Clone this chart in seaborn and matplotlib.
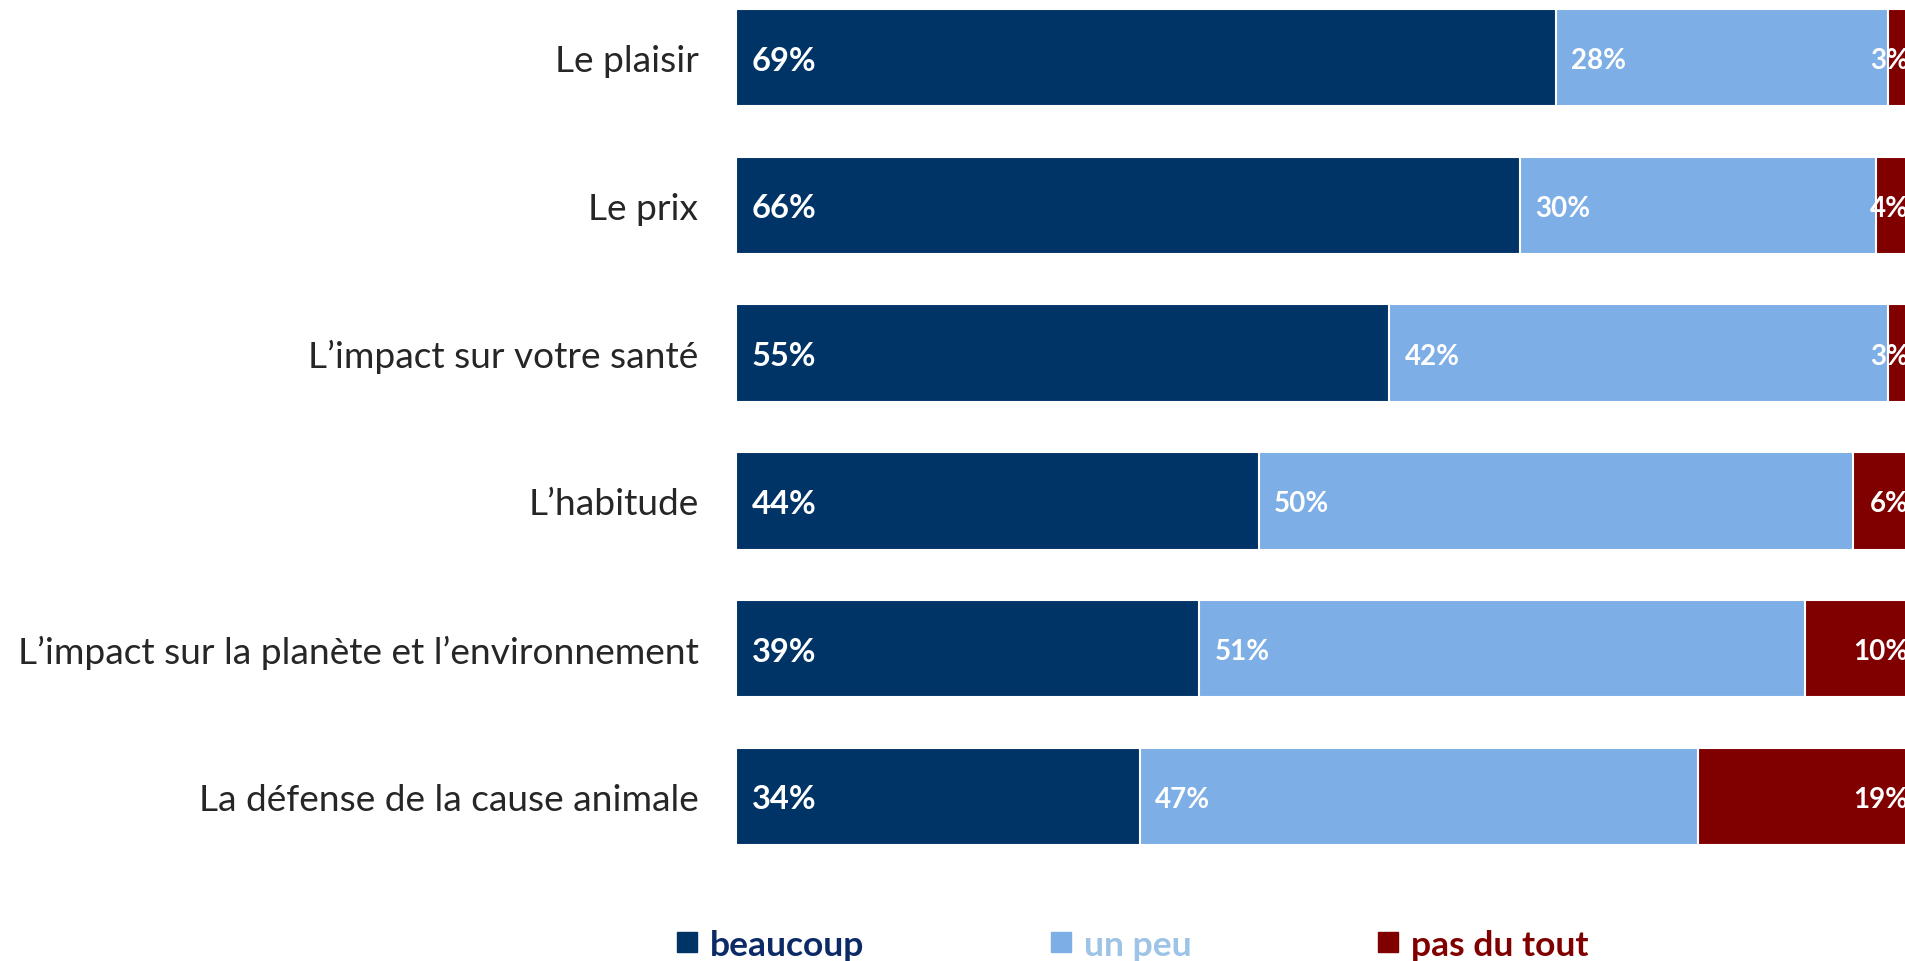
import pandas as pd
import matplotlib.pyplot as plt
import seaborn as sns
from matplotlib.lines import Line2D

categories = [
    "Le plaisir",
    "Le prix",
    "L’impact sur votre santé",
    "L’habitude",
    "L’impact sur la planète et l’environnement",
    "La défense de la cause animale",
]
beaucoup = [69, 66, 55, 44, 39, 34]
un_peu = [28, 30, 42, 50, 51, 47]
pas_du_tout = [3, 4, 3, 6, 10, 19]
series_names = ["beaucoup", "un peu", "pas du tout"]

df = pd.DataFrame({"cat": categories, "beaucoup": beaucoup,
                   "un_peu": un_peu, "pas_du_tout": pas_du_tout})
df["cum2"] = df["beaucoup"] + df["un_peu"]
df["cum3"] = df["cum2"] + df["pas_du_tout"]

dark = "#003366"
light = "#7DAEE5"
red = "#800000"

sns.set_style("white")
plt.rcParams["font.family"] = ["Lato", "DejaVu Sans"]

fig = plt.figure(figsize=(19.06, 9.62), dpi=100)
ax = fig.add_axes([736 / 1906, 1 - 846 / 962, 1188 / 1906, 836 / 962])

# stacked bars drawn as overlaid cumulative totals
sns.barplot(data=df, y="cat", x="cum3", color=red, width=0.66, orient="h",
            edgecolor="white", linewidth=1.5, ax=ax, saturation=1)
sns.barplot(data=df, y="cat", x="cum2", color=light, width=0.66, orient="h",
            edgecolor="white", linewidth=1.5, ax=ax, saturation=1)
sns.barplot(data=df, y="cat", x="beaucoup", color=dark, width=0.66, orient="h",
            edgecolor="white", linewidth=1.5, ax=ax, saturation=1)

ax.set_xlim(0, 100)
ax.set_ylim(5.33, -0.33)
ax.set_xlabel("")
ax.set_ylabel("")
ax.set_xticks([])
sns.despine(ax=ax, left=True, bottom=True)
ax.tick_params(axis="y", length=0, pad=27, labelsize=26.7)

off = 1.3
for i, row in df.iterrows():
    ax.text(off, i, f"{row['beaucoup']}%", color="white", fontsize=23.5,
            fontweight="bold", va="center_baseline", ha="left")
    ax.text(row["beaucoup"] + off, i, f"{row['un_peu']}%", color="white",
            fontsize=20, fontweight="bold", va="center_baseline", ha="left")
    ax.text(100 - off, i, f"{row['pas_du_tout']}%", color="white",
            fontsize=20, fontweight="bold", va="center_baseline", ha="right")

handles = [Line2D([], [], marker="s", linestyle="", markersize=14, color=c)
           for c in [dark, light, red]]
leg = fig.legend(handles, series_names, ncol=3, loc="center",
                 bbox_to_anchor=(0.594, 0.017), frameon=False,
                 handlelength=0.6, handletextpad=0.35, columnspacing=5.25,
                 prop={"size": 25.5, "weight": "bold"})
for t, c in zip(leg.get_texts(), ["#0B2A66", "#9DC3E6", red]):
    t.set_color(c)

fig.savefig("out.png", dpi=100)
